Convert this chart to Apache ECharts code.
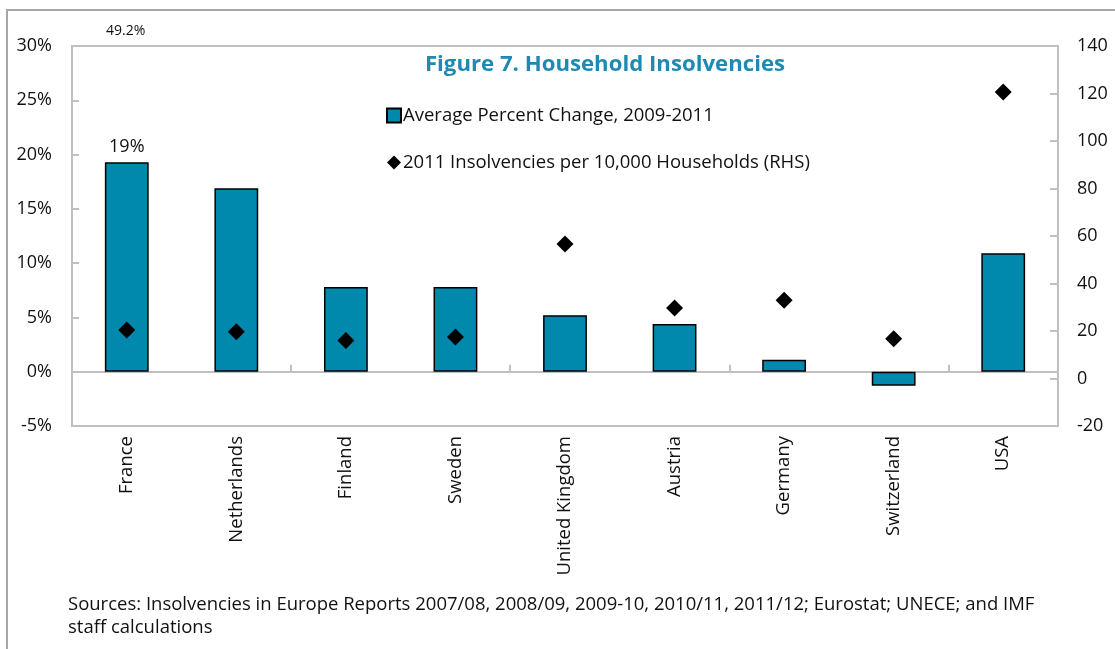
<!DOCTYPE html>
<html><head><meta charset="utf-8">
<script src="https://cdn.jsdelivr.net/npm/echarts@6/dist/echarts.min.js"></script>
<style>html,body{margin:0;padding:0;background:#fff}#c{width:1115px;height:649px}</style>
</head><body><div id="c"></div>
<script>
const categories = ['France','Netherlands','Finland','Sweden','United Kingdom','Austria','Germany','Switzerland','USA'];
const pctChange = [19.3, 16.9, 7.8, 7.8, 5.2, 4.4, 1.1, -1.3, 10.9];
const insolvencies = [20.4, 19.7, 16.0, 17.5, 56.6, 29.7, 33.0, 16.7, 120.6];
const leftTicks = {min: -5, max: 30, interval: 5};
const rightTicks = {min: -20, max: 140, interval: 20};
const seriesNames = ['Average Percent Change, 2009-2011', '2011 Insolvencies per 10,000 Households (RHS)'];

const FONT = '"Open Sans", Lato, sans-serif';
const chart = echarts.init(document.getElementById('c'), null, {renderer: 'canvas'});
const gray = '#c0c0c0';
chart.setOption({
  animation: false,
  textStyle: {fontFamily: FONT},
  title: {
    text: 'Figure 7. Household Insolvencies',
    left: 600, top: 49, textAlign: 'center',
    textStyle: {color: '#1e8ab3', fontSize: 22.2, fontWeight: 'bold', fontFamily: FONT}
  },
  legend: {
    orient: 'vertical', left: 381, top: 101, itemGap: 28,
    itemWidth: 14, itemHeight: 14,
    textStyle: {fontSize: 18.5, color: '#111', fontFamily: FONT, padding: [0,0,0,-3]},
    data: [
      {name: seriesNames[0], icon: 'rect'},
      {name: seriesNames[1], icon: 'diamond', itemStyle: {color: '#000', opacity: 1}}
    ]
  },
  grid: {left: 72, right: 57, top: 46, bottom: 223, show: true, borderColor: gray, borderWidth: 2, backgroundColor: 'transparent'},
  xAxis: [
    {
      type: 'category', data: categories, position: 'bottom',
      axisLine: {onZero: false, show: false},
      axisTick: {show: false},
      axisLabel: {rotate: 90, fontSize: 18.5, color: '#111', margin: 10, interval: 0, fontFamily: FONT}
    },
    {
      type: 'category', data: categories, position: 'bottom',
      axisLine: {onZero: true, onZeroAxisIndex: 0, show: true, lineStyle: {color: gray, width: 2}},
      axisTick: {show: true, inside: true, length: 7, lineStyle: {color: gray, width: 2}},
      axisLabel: {show: false}
    }
  ],
  yAxis: [
    {
      type: 'value', min: leftTicks.min, max: leftTicks.max, interval: leftTicks.interval,
      axisLine: {show: true, lineStyle: {color: gray, width: 2}},
      axisTick: {show: true, inside: true, length: 7, lineStyle: {color: gray, width: 2}},
      splitLine: {show: false},
      axisLabel: {formatter: '{value}%', fontSize: 18, color: '#111', margin: 20, fontFamily: FONT}
    },
    {
      type: 'value', min: rightTicks.min, max: rightTicks.max, interval: rightTicks.interval, position: 'right',
      axisLine: {show: true, lineStyle: {color: gray, width: 2}},
      axisTick: {show: true, inside: true, length: 8, lineStyle: {color: gray, width: 2}},
      splitLine: {show: false},
      axisLabel: {fontSize: 18, color: '#111', margin: 19, fontFamily: FONT}
    }
  ],
  series: [
    {
      name: seriesNames[0], type: 'bar', xAxisIndex: 0, yAxisIndex: 0, barWidth: '40%',
      itemStyle: {color: '#0089ad', borderColor: '#000', borderWidth: 1.5},
      data: pctChange.map((v, i) => i === 0 ? {value: v, label: {show: true, position: 'top', formatter: '19%', fontSize: 18, color: '#111', distance: 6}} : v)
    },
    {
      name: seriesNames[1], type: 'scatter', xAxisIndex: 0, yAxisIndex: 1,
      symbol: 'diamond', symbolSize: [17, 17],
      itemStyle: {color: '#000', opacity: 1},
      data: insolvencies
    }
  ],
  graphic: [
    {type: 'rect', shape: {x: 7, y: 10, width: 1120, height: 660}, style: {fill: 'none', stroke: '#a6a6a6', lineWidth: 2}},
    {type: 'text', left: 106, top: 24, style: {text: '49.2%', fontSize: 14, fill: '#111', fontFamily: FONT}},
    {type: 'text', left: 68, top: 593, style: {text: 'Sources: Insolvencies in Europe Reports 2007/08, 2008/09, 2009-10, 2010/11, 2011/12; Eurostat; UNECE; and IMF\nstaff calculations', fontSize: 18.5, lineHeight: 23, fill: '#111', fontFamily: FONT}}
  ]
});
</script></body></html>
